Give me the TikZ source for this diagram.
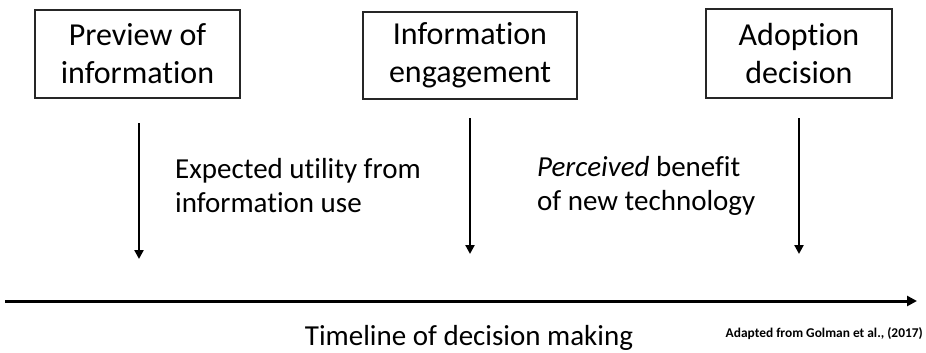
\documentclass[tikz,border=0pt]{standalone}
\usepackage{fontspec}
\setmainfont{Carlito}[Ligatures=NoCommon]
\usetikzlibrary{arrows.meta}
\tikzset{
  stagebox/.style={draw=black!85, line width=1.6pt, align=center, inner sep=0pt,
    font=\fontsize{32}{38}\selectfont},
  varrow/.style={draw=black, line width=2.4pt, -{Triangle[length=9pt,width=9pt]}},
  tarrow/.style={draw=black, line width=3pt, -{Triangle[length=10pt,width=10pt]}},
  midtext/.style={align=left, inner sep=0pt, font=\fontsize{29}{34}\selectfont},
}
\begin{document}
\begin{tikzpicture}[x=1pt,y=-1pt]
\useasboundingbox (0,0) rectangle (926,353);
\node[stagebox, minimum width=205pt, minimum height=88pt] (b1) at (137.5,54) {Preview of\\information};
\node[stagebox, minimum width=214pt, minimum height=87pt] (b2) at (470,55.5) {Information\\engagement};
\node[stagebox, minimum width=186pt, minimum height=89pt] (b3) at (799,53.5) {Adoption\\decision};
\coordinate (a1s) at (139,123);
\coordinate (a1e) at (139,259);
\coordinate (a2s) at (470,118);
\coordinate (a2e) at (470,254);
\coordinate (a3s) at (799,118);
\coordinate (a3e) at (799,254);
\draw[varrow] (a1s) -- (a1e);
\draw[varrow] (a2s) -- (a2e);
\draw[varrow] (a3s) -- (a3e);
\node[midtext, anchor=base west] (t1) at (175,212) {Expected utility from\\information use};
\node[midtext, anchor=base west] (t2) at (537,210) {\textit{Perceived} benefit\\of new technology};
\coordinate (ts) at (5,301);
\coordinate (te) at (917,301);
\draw[tarrow] (ts) -- (te);
\node[anchor=base, inner sep=0pt, font=\fontsize{29}{34}\selectfont] (tl) at (469,345) {Timeline of decision making};
\node[anchor=base east, inner sep=0pt, font=\fontsize{13.4}{16}\selectfont\bfseries] (cr) at (923,337) {Adapted from Golman et al., (2017)};
\end{tikzpicture}
\end{document}
